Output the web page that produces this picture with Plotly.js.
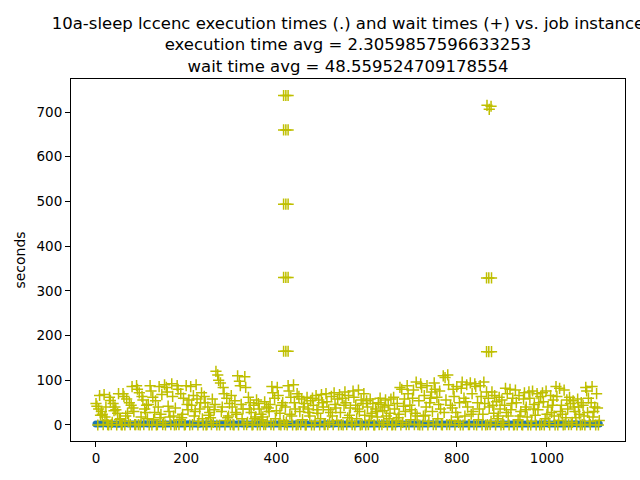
<!DOCTYPE html>
<html>
<head>
<meta charset="utf-8">
<script src="https://cdn.plot.ly/plotly-3.0.1.min.js"></script>
<style>
  body { margin: 0; background: #ffffff; }
  #chart { width: 640px; height: 480px; }
</style>
</head>
<body>
<div id="chart"></div>
<script>
// job instances run 0..1116; waits read every 2nd instance, exec every 6th
const FIRST_JOB = 0;
const WAIT_STEP = 2;
const EXEC_STEP = 6;

// wait times (seconds)
const waitTimes = [
    48, 42, 0, 36, 66, 22, 30, 24, 1, 68, 18, 40, 10, 1, 0,
    62, 55, 1, 6, 48, 32, 40, 34, 0, 26, 70, 12, 14, 1, 0,
    70, 64, 0, 20, 58, 26, 8, 50, 1, 44, 86, 38, 30, 1, 1,
    88, 80, 1, 72, 0, 18, 64, 56, 1, 36, 28, 44, 14, 46, 0,
    88, 76, 0, 62, 12, 28, 54, 0, 1, 40, 86, 16, 24, 68, 1,
    6, 90, 0, 84, 74, 42, 30, 18, 1, 92, 64, 20, 0, 38, 1,
    88, 80, 1, 12, 70, 16, 24, 60, 0, 1, 88, 46, 34, 56, 0,
    86, 44, 1, 66, 20, 30, 90, 58, 0, 8, 36, 50, 72, 14, 0,
    64, 50, 0, 1, 40, 22, 28, 16, 1, 58, 6, 34, 46, 120, 0,
    112, 100, 0, 94, 30, 40, 84, 70, 0, 10, 60, 16, 20, 48, 1,
    66, 40, 1, 0, 54, 28, 24, 110, 0, 98, 88, 46, 14, 36, 1,
    108, 84, 1, 6, 62, 36, 50, 28, 0, 1, 44, 14, 18, 56, 0,
    48, 36, 0, 24, 12, 18, 1, 52, 1, 40, 8, 38, 30, 46, 1,
    86, 72, 0, 60, 14, 32, 84, 66, 1, 26, 0, 44, 50, 10, 1,
    40, 6, 0, 88, 76, 24, 62, 20, 0, 90, 50, 36, 0, 70, 1,
    64, 30, 1, 58, 12, 40, 48, 0, 0, 62, 36, 28, 20, 54, 0,
    60, 44, 0, 8, 66, 34, 26, 56, 0, 14, 68, 50, 40, 1, 1,
    70, 52, 1, 34, 6, 28, 64, 20, 1, 72, 46, 38, 10, 58, 0,
    68, 28, 1, 60, 0, 44, 74, 50, 1, 16, 66, 22, 38, 8, 1,
    76, 62, 0, 44, 14, 36, 78, 30, 0, 56, 1, 48, 70, 22, 0,
    54, 40, 1, 10, 58, 20, 26, 48, 0, 0, 36, 30, 18, 50, 1,
    60, 46, 1, 32, 6, 40, 56, 20, 0, 44, 14, 26, 58, 0, 1,
    62, 36, 0, 10, 48, 16, 24, 84, 0, 80, 6, 42, 58, 30, 1,
    88, 70, 1, 44, 12, 34, 60, 78, 1, 26, 96, 20, 1, 54, 0,
    92, 84, 0, 20, 66, 22, 40, 88, 0, 8, 50, 60, 74, 30, 1,
    94, 80, 1, 62, 14, 46, 76, 36, 1, 0, 110, 28, 106, 56, 1,
    112, 90, 1, 44, 10, 38, 80, 64, 0, 28, 86, 18, 6, 50, 0,
    82, 96, 0, 60, 20, 52, 90, 40, 1, 1, 94, 24, 70, 30, 1,
    92, 86, 0, 50, 12, 36, 88, 64, 0, 24, 96, 48, 0, 74, 1,
    60, 40, 1, 8, 74, 44, 26, 66, 0, 52, 14, 20, 62, 36, 0,
    56, 6, 1, 44, 82, 28, 70, 20, 0, 80, 34, 48, 60, 0, 1,
    78, 50, 0, 12, 66, 20, 30, 1, 0, 58, 72, 34, 40, 18, 0,
    74, 60, 0, 8, 76, 36, 46, 22, 0, 70, 34, 50, 0, 64, 1,
    72, 52, 0, 14, 76, 24, 40, 6, 0, 66, 28, 44, 56, 20, 0,
    86, 64, 0, 10, 82, 30, 44, 24, 0, 78, 1, 16, 56, 36, 1,
    62, 48, 1, 6, 54, 40, 30, 16, 0, 58, 40, 24, 0, 50, 1,
    44, 20, 0, 84, 76, 28, 60, 8, 1, 50, 86, 18, 30, 40, 0,
    70, 38, 0, 10
];

// the two bursts of very long waits
const spikeJobs = [
    416, 421, 426, 416, 421, 426, 416, 421, 426, 416, 421, 426, 416, 421, 426,
    867, 872, 876, 866, 871, 877, 866, 871, 877
];
const spikeWaits = [
    737, 737, 737, 660, 660, 660, 494, 494, 494, 330, 330, 330, 165, 165, 165,
    715, 706, 713, 329, 329, 329, 164, 164, 164
];

// execution times (seconds)
const execTimes = [
    2.1, 2.4, 2.2, 2.6, 2.0, 2.3, 2.5, 2.2, 1.9, 2.4,
    2.3, 2.7, 2.1, 2.2, 2.5, 2.0, 2.4, 2.3, 2.6, 2.1,
    2.2, 2.4, 2.8, 2.0, 2.3, 2.5, 2.1, 2.2, 2.6, 2.4,
    2.0, 2.3, 2.2, 2.5, 2.7, 2.1, 2.4, 2.3, 1.9, 2.2,
    2.5, 2.3, 2.1, 2.6, 2.2, 2.4, 2.0, 2.3, 2.5, 2.2,
    2.4, 2.1, 2.3, 2.7, 2.2, 2.0, 2.5, 2.3, 2.4, 2.1,
    2.2, 2.6, 2.3, 2.1, 2.4, 2.5, 2.0, 2.2, 2.3, 2.8,
    2.1, 2.3, 2.4, 2.2, 2.6, 2.0, 2.3, 2.5, 2.1, 2.4,
    2.3, 2.2, 2.5, 2.1, 2.4, 2.7, 2.2, 2.0, 2.3, 2.6,
    2.4, 2.1, 2.3, 2.2, 2.5, 2.0, 2.4, 2.6, 2.2, 2.3,
    2.1, 2.5, 2.3, 2.4, 2.0, 2.2, 2.7, 2.3, 2.1, 2.4,
    2.2, 2.3, 2.6, 2.1, 2.4, 2.5, 2.0, 2.3, 2.2, 2.4,
    2.5, 2.2, 2.1, 2.3, 2.6, 2.4, 2.0, 2.2, 2.3, 2.5,
    2.3, 2.4, 2.1, 2.2, 2.7, 2.0, 2.3, 2.5, 2.2, 2.1,
    2.4, 2.2, 2.3, 2.6, 2.1, 2.5, 2.0, 2.3, 2.4, 2.2,
    2.1, 2.3, 2.5, 2.2, 2.4, 2.6, 2.0, 2.3, 2.1, 2.4,
    2.2, 2.5, 2.3, 2.1, 2.4, 2.0, 2.6, 2.3, 2.2, 2.5,
    2.3, 2.1, 2.4, 2.2, 2.5, 2.3, 2.0, 2.7, 2.2, 2.4,
    2.1, 2.3, 2.2, 2.5, 2.4, 2.0, 2.3
];

const titleLines = [
    '10a-sleep lccenc execution times (.) and wait times (+) vs. job instance',
    'execution time avg = 2.3059857596633253',
    'wait time avg = 48.559524709178554'
];

// job numbers for each series
let waitJobs = [];
for (let i = 0; i < waitTimes.length; i++) {
    waitJobs.push(FIRST_JOB + i * WAIT_STEP);
}
let execJobs = [];
for (let i = 0; i < execTimes.length; i++) {
    execJobs.push(FIRST_JOB + i * EXEC_STEP);
}

const FONT = 'DejaVu Sans, sans-serif';

let execTrace = {
    x: execJobs,
    y: execTimes,
    mode: 'markers',
    type: 'scatter',
    marker: {
        symbol: 'circle',
        size: 7,
        color: '#1f77b4'
    },
    hoverinfo: 'skip'
};

let waitTrace = {
    x: waitJobs.concat(spikeJobs),
    y: waitTimes.concat(spikeWaits),
    mode: 'markers',
    type: 'scatter',
    marker: {
        symbol: 'cross-thin',
        size: 8,
        color: '#bfbf00',
        line: { color: '#bfbf00', width: 1.5 }
    },
    hoverinfo: 'skip'
};

let axisStyle = {
    showgrid: false,
    zeroline: false,
    showline: true,
    mirror: true,
    linecolor: '#000000',
    linewidth: 1,
    ticks: 'outside',
    ticklen: 5,
    tickwidth: 1,
    tickcolor: '#000000',
    tickfont: { family: FONT, size: 13.5, color: '#000000' }
};

let layout = {
    width: 640,
    height: 480,
    margin: { l: 71, r: 15, t: 79, b: 39 },
    paper_bgcolor: '#ffffff',
    plot_bgcolor: '#ffffff',
    showlegend: false,
    title: {
        text: titleLines.join('<br>'),
        font: { family: FONT, size: 16.5, color: '#000000' },
        x: 0.5,
        xref: 'paper',
        xanchor: 'center',
        y: 0.94,
        yref: 'container',
        yanchor: 'top'
    },
    xaxis: Object.assign({}, axisStyle, {
        range: [-55.4, 1173],
        tickvals: [0, 200, 400, 600, 800, 1000]
    }),
    yaxis: Object.assign({}, axisStyle, {
        range: [-35.8, 773.9],
        tickvals: [0, 100, 200, 300, 400, 500, 600, 700],
        title: {
            text: 'seconds',
            font: { family: FONT, size: 14, color: '#000000' },
            standoff: 7
        }
    })
};

Plotly.newPlot('chart', [execTrace, waitTrace], layout, { displayModeBar: false, staticPlot: true });
</script>
</body>
</html>
